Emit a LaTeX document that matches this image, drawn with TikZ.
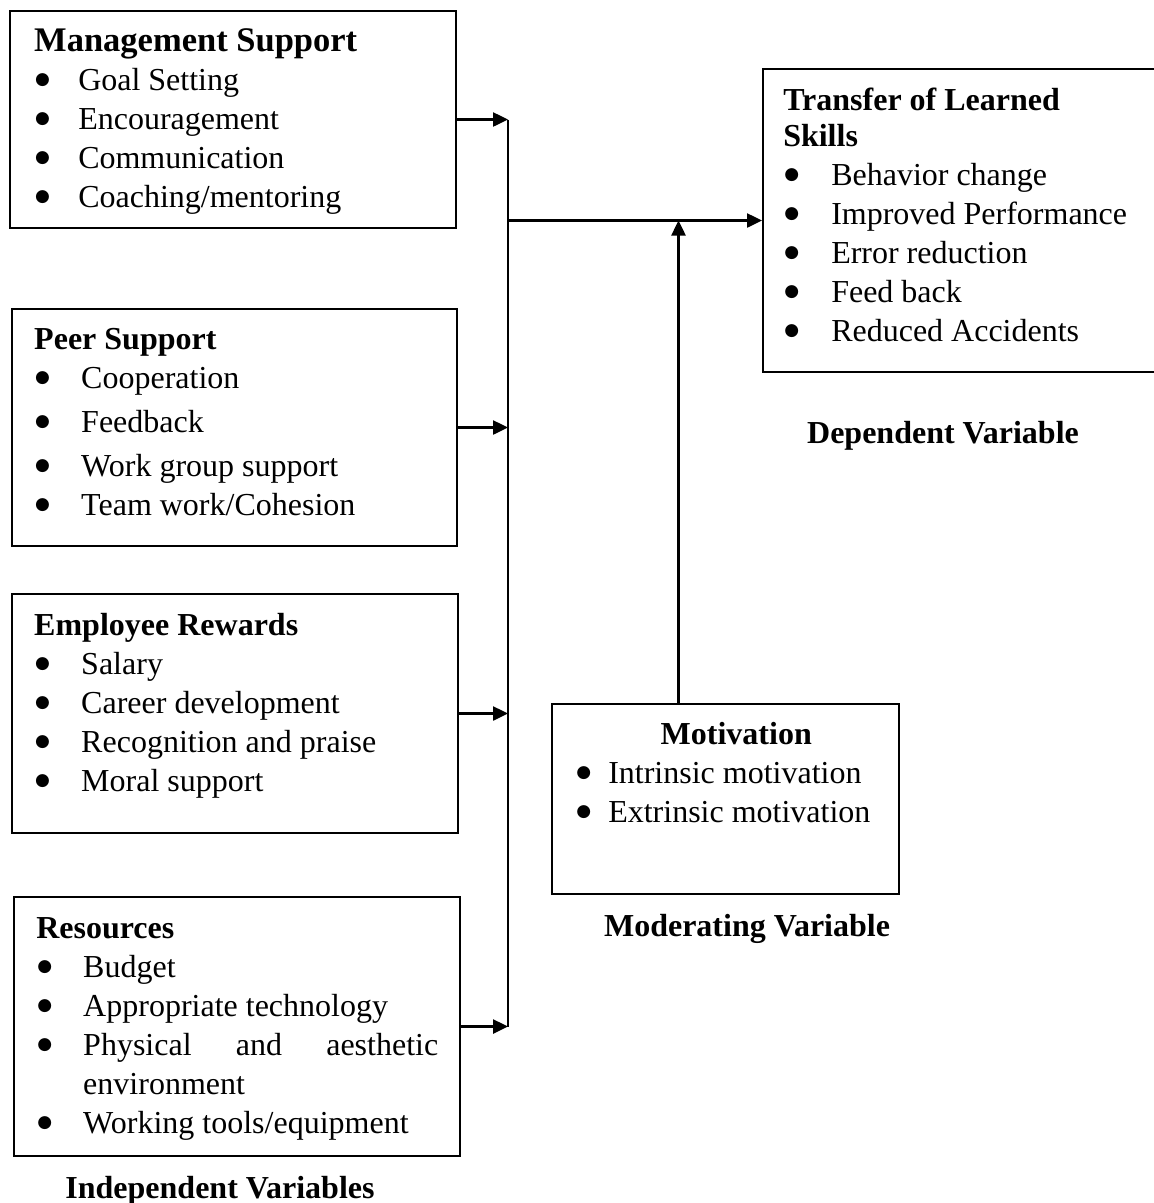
\documentclass[tikz,border=0pt]{standalone}
\usepackage{fontspec}
\setmainfont{Liberation Serif}
\newfontfamily\dotfont{DejaVu Sans}
\usetikzlibrary{arrows.meta}

\newcommand{\bul}[2][46pt]{\makebox[#1][l]{\hspace{1pt}{\dotfont\fontsize{17}{17}\selectfont\raisebox{6pt}{●}}}#2}

\begin{document}
\begin{tikzpicture}[x=1pt,y=-1pt,line width=2.5pt,>={Triangle[length=15pt,width=14pt]},
    varbox/.style={draw, rectangle, line width=2pt, anchor=north west, inner sep=0pt},
    itemlist/.style={anchor=north west, inner sep=0pt, align=flush left, text width=420pt,
        font=\fontsize{32}{39}\selectfont},
    varname/.style={anchor=base, font=\fontsize{32}{39}\selectfont\bfseries}]
\useasboundingbox (0,0) rectangle (1154,1203);

% independent variables
\node[varbox, minimum width=446pt, minimum height=217pt] (mgmt) at (9,10) {};
\node[varbox, minimum width=445pt, minimum height=237pt] (peer) at (11,308) {};
\node[varbox, minimum width=446pt, minimum height=239pt] (reward) at (11,593) {};
\node[varbox, minimum width=446pt, minimum height=259pt] (res) at (13,896) {};
% moderating and dependent variables
\node[varbox, minimum width=347pt, minimum height=190pt] (motiv) at (551,703) {};
\node[varbox, minimum width=396pt, minimum height=303pt] (transfer) at (762,68) {};

\node[itemlist] (mgmtlist) at ([shift={(24,10)}]mgmt.north west) {\rule{0pt}{30pt}{\fontsize{34.5}{39}\selectfont\textbf{Management Support}}\\
    \bul[44pt]{Goal Setting}\\ \bul[44pt]{Encouragement}\\
    \bul[44pt]{Communication}\\ \bul[44pt]{Coaching/mentoring}};
\node[itemlist] (peerlist) at ([shift={(22,10)}]peer.north west) {\rule{0pt}{30pt}\textbf{Peer Support}\\
    \bul[47pt]{Cooperation}\\[5pt] \bul[47pt]{Feedback}\\[5pt]
    \bul[47pt]{Work group support}\\ \bul[47pt]{Team work/Cohesion}};
\node[itemlist] (rewardlist) at ([shift={(22,11)}]reward.north west) {\rule{0pt}{30pt}\textbf{Employee Rewards}\\
    \bul[47pt]{Salary}\\ \bul[47pt]{Career development}\\
    \bul[47pt]{Recognition and praise}\\ \bul[47pt]{Moral support}};
\node[itemlist] (reslist) at ([shift={(22,11)}]res.north west) {\rule{0pt}{30pt}\textbf{Resources}\\
    \bul[47pt]{Budget}\\ \bul[47pt]{Appropriate technology}\\
    \bul[47pt]{\makebox[355pt][s]{Physical and aesthetic}}\\ \hspace*{47pt}environment\\
    \bul[47pt]{Working tools/equipment}};
\node[itemlist] (motivlist) at ([shift={(23,10)}]motiv.north west) {\rule{0pt}{30pt}\makebox[322pt]{\textbf{Motivation}}\\
    \bul[33pt]{Intrinsic motivation}\\ \bul[33pt]{Extrinsic motivation}};
\node[itemlist] (transferlist) at ([shift={(20,11)}]transfer.north west) {\rule{0pt}{30pt}\textbf{Transfer of Learned}\\[-3pt]
    \textbf{Skills}\\ \bul[48pt]{Behavior change}\\ \bul[48pt]{Improved Performance}\\
    \bul[48pt]{Error reduction}\\ \bul[48pt]{Feed back}\\ \bul[48pt]{Reduced Accidents}};

\node[varname] (dep) at (943,443) {Dependent Variable};
\node[varname] (moder) at (747,936) {Moderating Variable};
\node[varname] (indep) at (220,1198) {Independent Variables};

% connectors
\coordinate (bus) at (508,0);
\coordinate (join) at (bus |- transfer.west);
\draw (mgmt.east -| bus) -- (res.east -| bus);
\foreach \b in {mgmt,peer,reward,res}
    \draw[->] (\b.east) -- (\b.east -| bus);
\draw[->] (join) -- (transfer.west);
\draw[->] ([xshift=-47pt]motiv.north) -- ([xshift=-47pt]motiv.north |- join);
\end{tikzpicture}
\end{document}
